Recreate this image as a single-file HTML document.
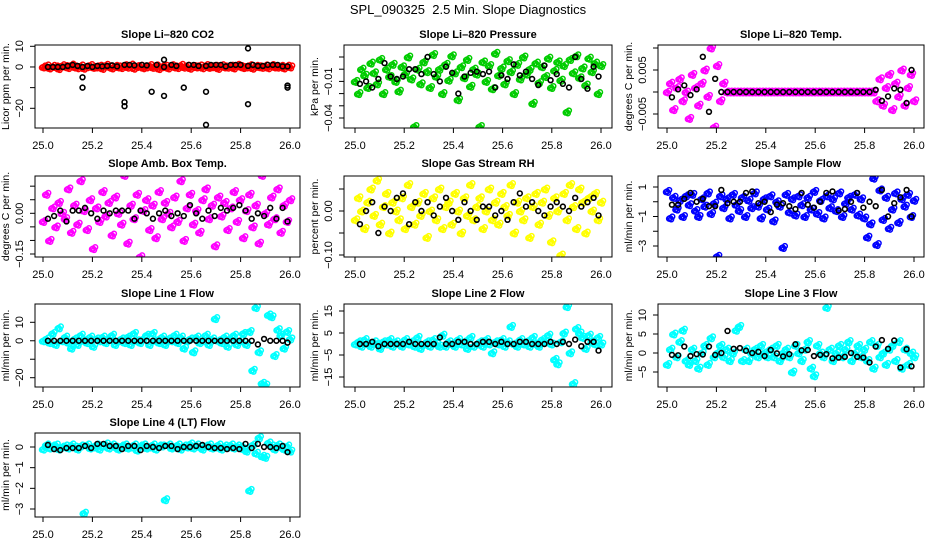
<!DOCTYPE html>
<html><head><meta charset="utf-8">
<style>
html,body{margin:0;padding:0;background:#fff;}
svg{display:block;font-family:"Liberation Sans",sans-serif;}
</style></head>
<body>
<svg id="chart" width="936" height="540" viewBox="0 0 936 540">
<rect width="936" height="540" fill="#fff"/>
<text x="468" y="14" text-anchor="middle" font-size="13">SPL_090325&#160; 2.5 Min. Slope Diagnostics</text>
</svg>
<script>
const xTicks = [25.0, 25.2, 25.4, 25.6, 25.8, 26.0];
const xTickLabels = ["25.0", "25.2", "25.4", "25.6", "25.8", "26.0"];
const blackX = [25.02,25.045,25.07,25.095,25.12,25.145,25.17,25.195,25.22,25.245,25.27,25.295,25.32,25.345,25.37,25.395,25.42,25.445,25.47,25.495,25.52,25.545,25.57,25.595,25.62,25.645,25.67,25.695,25.72,25.745,25.77,25.795,25.82,25.845,25.87,25.895,25.92,25.945,25.97,25.99];

const co2Values = [0,0.5,-0.5,0.3,0,-0.8,0.6,0.2,-0.3,0.9,0,-0.4,0.5,-0.6,0.1,0.7,-0.2,0,0.4,-0.7,0.8,0.1,-0.5,0.3,0,-0.3,0.6,-0.1,0.9,-0.6,0.2,0.4,-0.4,0,0.7,-0.2,0.5,-0.8,0.1,0.3,-0.5,0.6,0,-0.3,0.8,-0.1,0.4,-0.6,0.2,0,0.5,-0.4,0.7,-0.2,0.1,0.3,-0.7,0.6,0,-0.1,0.4,-0.5,0.8,0.2,-0.3,0,0.6,-0.6,0.3,0.1,-0.2,0.5,-0.4,0.7,0,-0.1,0.3,-0.5,0.4,0];
const co2BlackX = [25.02,25.04,25.06,25.08,25.1,25.12,25.14,25.16,25.16,25.16,25.18,25.2,25.22,25.24,25.26,25.28,25.3,25.33,25.33,25.33,25.35,25.37,25.4,25.42,25.44,25.46,25.49,25.49,25.49,25.52,25.54,25.57,25.59,25.61,25.63,25.66,25.66,25.66,25.68,25.7,25.72,25.74,25.76,25.78,25.8,25.83,25.83,25.83,25.85,25.87,25.89,25.91,25.93,25.95,25.97,25.99,25.99,25.99];
const co2BlackValues = [0,0,0,0,0.5,1,0.5,0,-5,-10,0.5,0,0.5,0.3,0.5,0.8,0.3,1,-17,-19,1,0.8,1,0.8,-12,1,3.5,0,-14,1,0.5,-10,1,1,0.5,0.5,-12,-28,1,1,1,0.3,1,1,1,0.5,9,-18,1,0.5,0.5,1,1,1,0.3,0.3,-9,-10];

const pressureValues = [-0.01,-0.02,0.0,-0.005,-0.015,0.005,-0.003,-0.012,0.008,-0.02,0.0,-0.006,0.004,-0.01,-0.018,0.002,-0.004,0.01,-0.008,-0.047,0.0,-0.012,0.006,-0.002,-0.015,0.012,-0.006,0.0,-0.02,0.004,-0.009,0.011,-0.003,-0.025,0.002,-0.007,0.008,-0.014,0.0,-0.004,-0.047,0.006,-0.01,0.003,-0.016,0.013,-0.005,0.001,-0.012,0.007,-0.002,-0.02,0.004,-0.008,0.01,-0.004,0.0,-0.028,0.005,-0.011,0.002,-0.006,0.009,-0.015,-0.001,0.006,-0.009,0.003,-0.035,0.008,-0.003,0.011,-0.007,0.001,-0.013,0.009,-0.002,0.005,-0.02,0.003];
const pressureBlack = [-0.012,-0.01,-0.015,-0.008,0.005,-0.006,-0.008,-0.006,0,0,-0.004,0.01,-0.004,-0.01,0.002,-0.003,-0.02,-0.006,-0.003,-0.002,-0.004,-0.002,-0.015,-0.005,-0.008,0.004,-0.005,-0.002,-0.008,-0.013,0.003,-0.009,-0.004,-0.012,-0.015,0.01,-0.008,-0.016,0.002,-0.006];

const licorTempValues = [0,0.002,-0.004,0.001,0.003,-0.002,0,-0.006,0.004,0.001,-0.003,0.002,0.005,-0.001,0.01,-0.008,0.006,-0.002,0.002,0,0,0,0,0,0,0,0,0,0,0,0,0,0,0,0,0,0,0,0,0,0,0,0,0,0,0,0,0,0,0,0,0,0,0,0,0,0,0,0,0,0,0,0,0,0,0,0,-0.002,0.003,-0.003,0.001,0.004,-0.004,0.002,-0.001,0.005,-0.003,0.001,0.004,-0.002];
const licorTempBlack = [-0.0012,0.0006,0.0015,-0.0007,0.0006,0.008,-0.0045,0.003,0,0,0,0,0,0,0,0,0,0,0,0,0,0,0,0,0,0,0,0,0,0,0,0,0,0.0005,-0.002,-0.001,0.0008,0.0005,-0.0025,0.005];

const boxTempValues = [-0.03,0.07,-0.1,0.02,-0.05,0.04,0.0,-0.02,0.09,-0.07,0.03,-0.04,0.12,0.01,-0.06,0.05,-0.13,0.02,-0.03,0.08,-0.01,0.04,-0.08,0.06,0.0,-0.04,0.14,-0.11,0.03,-0.02,0.07,-0.16,0.01,0.05,-0.06,0.03,-0.09,0.08,-0.02,0.04,0.0,-0.05,0.06,-0.03,0.12,-0.1,0.02,0.07,-0.04,0.01,-0.07,0.05,0.09,-0.02,0.03,-0.12,0.06,-0.01,0.04,-0.06,0.02,0.08,-0.03,0.05,-0.09,0.01,0.07,-0.05,0.03,-0.11,0.14,0.0,-0.04,0.06,-0.02,0.09,-0.07,0.03,-0.03,0.05];
const boxTempBlack = [-0.02,-0.01,0.01,-0.03,0.01,0.01,0.02,0.0,-0.02,0.01,0.0,0.01,0.01,0.01,-0.02,0.01,0.0,-0.02,0.0,0.01,-0.01,0.0,-0.01,0.03,0.0,-0.02,0.01,-0.01,0.02,0.01,0.02,0.03,0.01,-0.02,0.0,-0.01,0.02,-0.02,0.02,-0.03];

const rhValues = [-0.02,0.03,0.0,-0.04,0.02,0.05,-0.01,0.07,-0.03,0.01,0.04,-0.05,0.02,0.0,-0.02,0.03,-0.04,0.06,0.01,-0.03,0.02,-0.01,0.04,-0.06,0.0,0.03,-0.02,0.05,-0.04,0.01,0.02,-0.03,0.04,0.0,-0.05,0.03,-0.01,0.06,-0.02,0.01,0.03,-0.04,0.0,0.05,-0.02,0.02,-0.03,0.04,0.01,-0.01,0.06,-0.05,0.02,0.0,-0.02,0.03,-0.06,0.01,0.04,-0.03,0.02,0.05,-0.01,-0.07,0.03,0.0,-0.1,0.04,-0.02,0.06,0.01,-0.04,0.05,0.02,-0.05,0.03,0.0,0.04,-0.02,0.02];
const rhBlack = [-0.03,0.0,0.02,-0.05,0.01,0.0,0.03,0.04,-0.03,0.02,0.0,0.02,-0.01,0.01,0.03,0.0,-0.02,0.02,0.0,-0.02,0.01,0.01,-0.01,0.0,-0.02,0.02,0.04,0.01,0.02,0.0,-0.01,0.01,0.02,0.01,0.0,0.03,0.01,0.02,0.03,-0.01];

const sampleFlowValues = [0.7,-1.1,0.3,-0.5,0.1,-1.0,0.4,-0.2,0.5,-0.6,-1.0,0.2,-0.3,0.6,-0.8,-0.1,-3.7,0.4,-0.4,0.2,-1.1,0.5,-0.2,-0.6,0.3,-1.0,0.1,-0.4,0.6,-0.3,-1.1,0.2,-0.5,0.4,-1.3,0.0,-0.3,-3.1,0.5,-0.7,0.2,-0.9,0.4,-0.2,-1.0,0.3,-0.5,0.7,-0.8,0.1,-1.1,0.4,-0.4,0.2,-0.6,0.6,-1.0,-0.1,0.3,-0.5,0.5,-0.9,0.2,-1.1,-2.4,-1.5,1.6,-2.9,0.8,-1.2,0.3,-1.8,-0.5,0.6,-1.4,0.2,-0.3,0.5,-1.0,0.1];
const sampleFlowBlack = [-0.2,-0.2,0.2,0.6,0.0,0.2,-0.3,-0.3,0.8,-0.1,0.0,0.0,0.6,0.7,-0.1,0.0,-0.7,-0.2,-0.1,-0.3,-0.5,0.6,-0.2,-0.4,0.0,0.6,0.7,-0.6,-0.5,0.0,0.6,-0.4,0.0,-0.3,0.8,-1.0,-0.1,0.3,0.8,-1.0];

const line1Values = [0,1,-1,4,-2,7,0,2,-1,-4,1,-2,3,0,-1,2,-3,1,0,2,-1,1,3,-2,0,1,-1,2,-2,4,0,-1,1,3,-2,4,0,-1,2,-2,1,0,3,-1,2,-4,0,1,-6,2,-1,0,3,-2,1,12,0,-1,2,-3,1,3,-2,0,4,-2,5,-16,18,-6,-23,-24,14,13,-8,6,3,-4,5,1];
const line1Black = [0,0,0,0,0,0,0,0,0,0,0,0,0,0,0,0,0,0,0,0,0,0,0,0,0,0,0,0,0,0,0,0,0,0,-2,1,0,0,0,-1];

const line2Values = [0,1,-1,2,0,-1,1,0,-2,1,0,2,-1,1,0,-1,2,0,1,-1,3,-2,0,1,-1,2,0,-1,4,-1,1,0,-1,2,0,1,-2,3,-1,0,1,-1,2,0,-4,1,0,2,-1,1,8,0,-1,2,0,1,-1,3,0,-1,2,1,4,0,-7,-9,1,5,17,-4,-18,7,5,3,-2,4,1,0,3,0];
const line2Black = [0,0,1,-1,0,0,0,0,1,0,0,0,0,3,0,0,1,1,0,0,1,1,0,1,0,0,1,1,0,0,0,1,0,1,0,2,-1,1,1,-3];

const line3Values = [-3,1,5,-1,3,6,-2,-3,1,-2,-4,0,2,-3,4,-1,0,2,-1,1,-2,0,6,7,-2,1,-2,0,1,-1,2,0,-1,1,-1,2,-2,0,1,-1,-5,2,0,-2,1,3,-4,-6,2,0,-1,12,1,-2,0,2,-1,1,3,-2,0,2,-1,1,-2,3,-4,2,-1,0,-3,1,2,-2,3,-4,1,-3,0,-1];
const line3Black = [-0.5,-0.6,1.7,-0.8,-0.3,-0.4,1.7,-0.5,0.0,5.8,1.1,1.3,0.6,0.0,0.3,-0.8,0.8,-0.1,-0.9,-0.3,2.3,0.7,0.8,-0.8,-0.5,-0.3,-1.4,-1.2,-1.0,0.0,-1.0,-1.2,-2.5,1.7,3.4,1.1,3.3,-3.8,1.0,-3.5];

const line4Values = [-0.1,0.1,-0.05,0.05,0.1,-0.1,0,0.05,-0.05,0.1,0.0,-0.1,0.05,-3.2,0.1,-0.05,0,0.1,-0.1,0.05,0.15,-0.05,0.1,0,-0.1,0.05,0.1,-0.05,0,0.1,-0.15,0.05,0.1,-0.05,0,0.1,-0.1,0.05,0.05,-2.55,0.1,-0.05,0,0.1,-0.1,0.05,0,0.15,-0.05,0.1,0,-0.1,0.05,0.1,-0.05,0,0.1,-0.1,0.05,0,0.1,-0.05,0.05,0,-0.1,-0.2,-2.1,0.1,-0.3,0.45,-0.45,-0.5,0.2,0.05,-0.1,0.1,0,-0.1,0.05,-0.2];
const line4Black = [0.1,-0.1,-0.15,-0.05,-0.05,-0.05,0.05,-0.05,0.15,0.15,0.05,0.05,-0.1,0.05,0.05,-0.15,0.05,0.0,-0.05,0.05,0.05,-0.1,0.0,0.0,0.05,0.1,0.0,-0.05,-0.05,-0.1,-0.05,-0.1,0.15,-0.05,0.15,0.0,0.0,-0.05,0.05,-0.25];

const co2Ticks = [10, 0, -10, -20]; const co2Labels = ["10", "0", "", "\u221220"];
const pressureTicks = [0.01, 0, -0.01, -0.02, -0.03, -0.04]; const pressureLabels = ["", "", "\u22120.01", "", "", "\u22120.04"];
const licorTempTicks = [0.01, 0.005, 0, -0.005]; const licorTempLabels = ["", "0.005", "", "\u22120.005"];
const boxTempTicks = [0.1, 0.05, 0, -0.05, -0.1, -0.15]; const boxTempLabels = ["", "", "0.00", "", "", "\u22120.15"];
const rhTicks = [0.05, 0, -0.05, -0.1]; const rhLabels = ["", "0.00", "", "\u22120.10"];
const sampleFlowTicks = [1, 0, -1, -2, -3]; const sampleFlowLabels = ["1", "", "\u22121", "", "\u22123"];
const line1Ticks = [10, 0, -10, -20]; const line1Labels = ["10", "0", "", "\u221220"];
const line2Ticks = [15, 5, -5, -15]; const line2Labels = ["15", "5", "\u22125", "\u221215"];
const line3Ticks = [10, 5, 0, -5]; const line3Labels = ["10", "5", "0", "\u22125"];
const line4Ticks = [0, -1, -2, -3]; const line4Labels = ["0", "\u22121", "\u22122", "\u22123"];

const NS = "http://www.w3.org/2000/svg";
const svg = document.getElementById("chart");
function mk(tag, attrs, parent) {
  const e = document.createElementNS(NS, tag);
  for (const k in attrs) e.setAttribute(k, attrs[k]);
  (parent || svg).appendChild(e);
  return e;
}
const cols = [{l:35,r:300,x0:43,x1:290},{l:344,r:612,x0:355,x1:601},{l:658,r:924,x0:667,x1:914}];
const rows = [{t:45,b:128,ty:38},{t:176,b:257,ty:167},{t:304,b:387,ty:297},{t:433,b:517,ty:426}];

const panels = [
 {name:"co2",title:"Slope Li\u2013820 CO2",ylab:"Licor ppm per min.",col:0,row:0,color:"#ff0000",vals:co2Values,bx:co2BlackX,by:co2BlackValues,ticks:co2Ticks,labels:co2Labels,ya:[10,46.3],yb:[-20,108.3]},
 {name:"pressure",title:"Slope Li\u2013820 Pressure",ylab:"kPa per min.",col:1,row:0,color:"#00cc00",vals:pressureValues,bx:blackX,by:pressureBlack,ticks:pressureTicks,labels:pressureLabels,ya:[0.01,57],yb:[-0.04,118]},
 {name:"licor-temp",title:"Slope Li\u2013820 Temp.",ylab:"degrees C per min.",col:2,row:0,color:"#ff00ff",vals:licorTempValues,bx:blackX,by:licorTempBlack,ticks:licorTempTicks,labels:licorTempLabels,ya:[0.005,70],yb:[-0.005,114]},
 {name:"box-temp",title:"Slope Amb. Box Temp.",ylab:"degrees C per min.",col:0,row:1,color:"#ff00ff",vals:boxTempValues,bx:blackX,by:boxTempBlack,ticks:boxTempTicks,labels:boxTempLabels,ya:[0,213.3],yb:[-0.15,254]},
 {name:"gas-rh",title:"Slope Gas Stream RH",ylab:"percent per min.",col:1,row:1,color:"#ffff00",vals:rhValues,bx:blackX,by:rhBlack,ticks:rhTicks,labels:rhLabels,ya:[0,211],yb:[-0.1,255]},
 {name:"sample-flow",title:"Slope Sample Flow",ylab:"ml/min per min.",col:2,row:1,color:"#0000ff",vals:sampleFlowValues,bx:blackX,by:sampleFlowBlack,ticks:sampleFlowTicks,labels:sampleFlowLabels,ya:[1,187],yb:[-3,246]},
 {name:"line1",title:"Slope Line 1 Flow",ylab:"ml/min per min.",col:0,row:2,color:"#00ffff",vals:line1Values,bx:blackX,by:line1Black,ticks:line1Ticks,labels:line1Labels,ya:[10,322.3],yb:[-20,377.7]},
 {name:"line2",title:"Slope Line 2 Flow",ylab:"ml/min per min.",col:1,row:2,color:"#00ffff",vals:line2Values,bx:blackX,by:line2Black,ticks:line2Ticks,labels:line2Labels,ya:[15,311],yb:[-15,377]},
 {name:"line3",title:"Slope Line 3 Flow",ylab:"ml/min per min.",col:2,row:2,color:"#00ffff",vals:line3Values,bx:blackX,by:line3Black,ticks:line3Ticks,labels:line3Labels,ya:[10,315],yb:[-5,372]},
 {name:"line4",title:"Slope Line 4 (LT) Flow",ylab:"ml/min per min.",col:0,row:3,color:"#00ffff",vals:line4Values,bx:blackX,by:line4Black,ticks:line4Ticks,labels:line4Labels,ya:[0,447],yb:[-3,509]}
];

panels.forEach(p => {
  const c = cols[p.col], r = rows[p.row];
  const xs = v => c.x0 + (v - 25) * (c.x1 - c.x0);
  const ys = v => p.ya[1] + (v - p.ya[0]) * (p.yb[1] - p.ya[1]) / (p.yb[0] - p.ya[0]);
  const g = mk("g", {});
  
  
  const t = mk("text", {x:(c.l + c.r) / 2, y:r.ty, "text-anchor":"middle", "font-size":"11", "font-weight":"bold"}, g);
  t.textContent = p.title;
  
  
  const clip = mk("clipPath", {id:"clip-" + p.name}, g);
  mk("rect", {x:c.l, y:r.t, width:c.r - c.l, height:r.b - r.t}, clip);
  const pts = mk("g", {"clip-path":"url(#clip-" + p.name + ")"}, g);
  
  
  const n = p.vals.length;
  const offs = [[0,0],[1.1,1.4],[2.2,-1.4],[-1.1,0.7]];
  p.vals.forEach((v, i) => {
    const cx = xs(25 + i / (n - 1));
    const cy = ys(v);
    offs.forEach(o => {
      const pt = mk("circle", {cx:cx + o[0], cy:cy + o[1], r:2.4, fill:"none", stroke:p.color, "stroke-width":1.5}, pts);
      
      
    });
  });
  const m = Math.min(p.bx.length, p.by.length);
  for (let i = 0; i < m; i++) {
    const bp = mk("circle", {cx:xs(p.bx[i]), cy:ys(p.by[i]), r:2.4, fill:"none", stroke:"#000", "stroke-width":1.6}, pts);
    
    
  }
  const box = mk("rect", {x:c.l, y:r.t, width:c.r - c.l, height:r.b - r.t, fill:"none", stroke:"#000", "stroke-width":1}, g);
  
  
  const xa = mk("g", {}, g);
  
  
  mk("line", {x1:xs(xTicks[0]), x2:xs(xTicks[xTicks.length - 1]), y1:r.b, y2:r.b, stroke:"#000"}, xa);
  xTicks.forEach((v, i) => {
    mk("line", {x1:xs(v), x2:xs(v), y1:r.b, y2:r.b + 5, stroke:"#000"}, xa);
    const tl = mk("text", {x:xs(v), y:r.b + 21, "text-anchor":"middle", "font-size":"11"}, xa);
    tl.textContent = xTickLabels[i];
    
    
  });
  const ya = mk("g", {}, g);
  
  
  mk("line", {x1:c.l, x2:c.l, y1:ys(p.ticks[0]), y2:ys(p.ticks[p.ticks.length - 1]), stroke:"#000"}, ya);
  p.ticks.forEach((v, i) => {
    mk("line", {x1:c.l - 5, x2:c.l, y1:ys(v), y2:ys(v), stroke:"#000"}, ya);
    if (p.labels[i]) {
      const yl = mk("text", {x:0, y:0, transform:"translate(" + (c.l - 12) + "," + ys(v) + ") rotate(-90)", "text-anchor":"middle", "font-size":"11"}, ya);
      yl.textContent = p.labels[i];
      
      
    }
  });
  const yt = mk("text", {x:0, y:0, transform:"translate(" + (c.l - 26) + "," + ((r.t + r.b) / 2) + ") rotate(-90)", "text-anchor":"middle", "font-size":"10.5"}, g);
  yt.textContent = p.ylab;
  
  
});
</script>
</body></html>
